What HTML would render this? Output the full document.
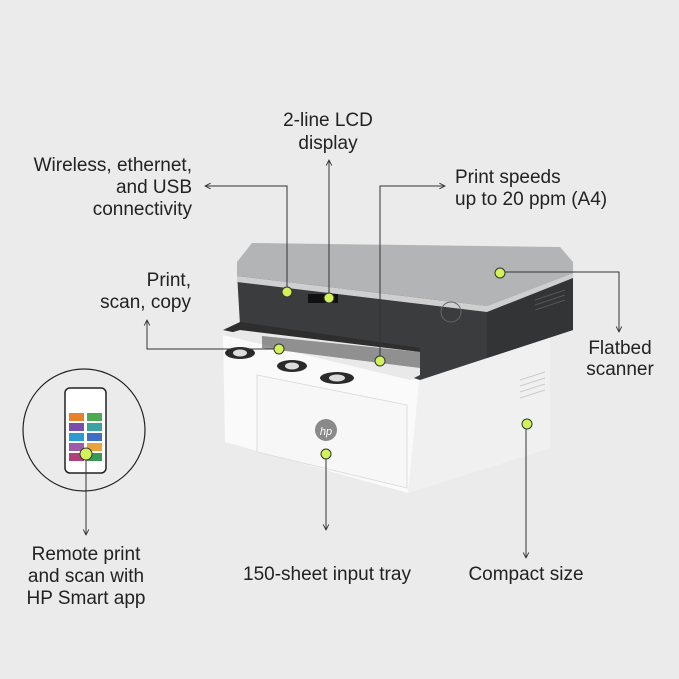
<!DOCTYPE html>
<html><head><style>
html,body{margin:0;padding:0;background:#ebebeb;}
svg{display:block}
text{font-family:"Liberation Sans",sans-serif;font-size:19px;fill:#222;}
</style></head><body>
<svg width="679" height="679" viewBox="0 0 679 679">
<rect width="679" height="679" fill="#ebebeb"/>
<defs><marker id="a" viewBox="0 0 10 10" refX="9" refY="5" markerWidth="7" markerHeight="7" orient="auto"><path d="M1,1 L9,5 L1,9" fill="none" stroke="#333" stroke-width="1.3"/></marker></defs>
<!-- printer white body -->
<polygon points="223,335 420,372 550,335 550,448 408,493 225,442" fill="#fafafa"/>
<polygon points="420,372 550,335 550,448 408,493" fill="#f0f0f0"/>
<polygon points="257,375 407,405 407,488 257,452" fill="#f7f7f7" stroke="#dedede"/>
<!-- dark body -->
<polygon points="237,273 487,306 573,273 573,330 420,380 240,325" fill="#3b3c3e"/>
<polygon points="487,306 573,273 573,330 487,358" fill="#333436"/>
<g stroke="#555"><line x1="535" y1="300" x2="565" y2="290"/><line x1="535" y1="305" x2="565" y2="295"/><line x1="535" y1="310" x2="565" y2="300"/></g>
<!-- output tray -->
<polygon points="223,330 240,322 420,348 420,372" fill="#2e2e2e"/>
<polygon points="223,335 240,330 420,352 420,375 410,380" fill="#e9e9e9"/>
<polygon points="262,336 420,352 420,368 262,348" fill="#555" opacity="0.6"/>
<ellipse cx="240" cy="353" rx="15" ry="6" fill="#2a2a2a"/><ellipse cx="240" cy="353" rx="7" ry="3.5" fill="#ddd"/>
<ellipse cx="292" cy="366" rx="15" ry="6" fill="#2a2a2a"/><ellipse cx="292" cy="366" rx="7" ry="3.5" fill="#ddd"/>
<ellipse cx="337" cy="378" rx="17" ry="6" fill="#2a2a2a"/><ellipse cx="337" cy="378" rx="8" ry="3.5" fill="#ddd"/>
<!-- lid -->
<polygon points="237,262 252,243 560,247 573,262 573,273 487,306 237,276" fill="#b3b4b5"/>
<polygon points="237,276 487,306 573,273 573,278 487,312 237,282" fill="#cfcfcf"/>
<rect x="308" y="294" width="30" height="9" fill="#111"/>
<circle cx="451" cy="312" r="10" fill="none" stroke="#666"/>
<circle cx="326" cy="430" r="11" fill="#8a8a8a"/>
<text x="326" y="435" text-anchor="middle" style="font-size:11px;fill:#fff;font-style:italic">hp</text>
<g stroke="#ccc"><line x1="520" y1="380" x2="545" y2="372"/><line x1="520" y1="386" x2="545" y2="378"/><line x1="520" y1="392" x2="545" y2="384"/><line x1="520" y1="398" x2="545" y2="390"/></g>
<!-- phone circle -->
<circle cx="84" cy="430" r="61" fill="none" stroke="#222" stroke-width="1.2"/>
<rect x="65" y="388" width="41" height="85" rx="5" fill="#fff" stroke="#222" stroke-width="1.5"/>
<rect x="69" y="413" width="15" height="8" fill="#e8822a"/><rect x="87" y="413" width="15" height="8" fill="#4caa55"/>
<rect x="69" y="423" width="15" height="8" fill="#7a4ea8"/><rect x="87" y="423" width="15" height="8" fill="#3aa3a0"/>
<rect x="69" y="433" width="15" height="8" fill="#2d9bd1"/><rect x="87" y="433" width="15" height="8" fill="#3f6ec2"/>
<rect x="69" y="443" width="15" height="8" fill="#9c5ca8"/><rect x="87" y="443" width="15" height="8" fill="#e8a33a"/>
<rect x="69" y="453" width="15" height="8" fill="#b0407a"/><rect x="87" y="453" width="15" height="8" fill="#3a9a55"/>
<!-- lines -->
<g fill="none" stroke="#333" stroke-width="1">
<polyline points="287,292 287,186 205,186" marker-end="url(#a)"/>
<polyline points="329,298 329,160" marker-end="url(#a)"/>
<polyline points="380,360 380,186 445,186" marker-end="url(#a)"/>
<polyline points="279,349 147,349 147,320" marker-end="url(#a)"/>
<polyline points="500,272 619,272 619,332" marker-end="url(#a)"/>
<polyline points="326,454 326,530" marker-end="url(#a)"/>
<polyline points="526,424 526,558" marker-end="url(#a)"/>
<polyline points="86,454 86,535" marker-end="url(#a)"/>
</g>
<g fill="#d3f25a" stroke="#333" stroke-width="1">
<circle cx="287" cy="292" r="5"/><circle cx="329" cy="298" r="5"/><circle cx="500" cy="273" r="5"/>
<circle cx="279" cy="349" r="5"/><circle cx="380" cy="361" r="5"/><circle cx="326" cy="454" r="5"/>
<circle cx="527" cy="424" r="5"/><circle cx="86" cy="454" r="6"/>
</g>
<!-- labels -->
<text x="328" y="126" text-anchor="middle">2-line LCD</text>
<text x="328" y="149" text-anchor="middle">display</text>
<text x="192" y="171" text-anchor="end">Wireless, ethernet,</text>
<text x="192" y="193" text-anchor="end">and USB</text>
<text x="192" y="215" text-anchor="end">connectivity</text>
<text x="455" y="183">Print speeds</text>
<text x="455" y="205">up to 20 ppm (A4)</text>
<text x="191" y="286" text-anchor="end">Print,</text>
<text x="191" y="308" text-anchor="end">scan, copy</text>
<text x="620" y="354" text-anchor="middle">Flatbed</text>
<text x="620" y="375" text-anchor="middle">scanner</text>
<text x="86" y="560" text-anchor="middle">Remote print</text>
<text x="86" y="582" text-anchor="middle">and scan with</text>
<text x="86" y="604" text-anchor="middle">HP Smart app</text>
<text x="327" y="580" text-anchor="middle">150-sheet input tray</text>
<text x="526" y="580" text-anchor="middle">Compact size</text>
</svg>
</body></html>
